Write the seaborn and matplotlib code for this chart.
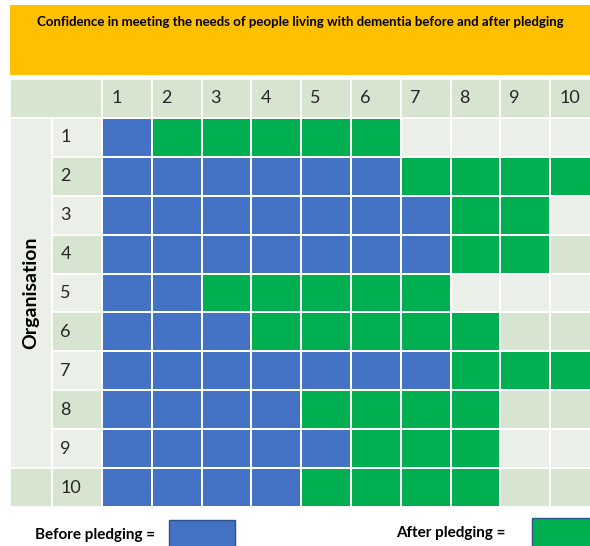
import matplotlib
matplotlib.use("Agg")
import numpy as np
import pandas as pd
import matplotlib.pyplot as plt
import seaborn as sns
from matplotlib.colors import ListedColormap
from matplotlib.patches import Rectangle

# Confidence scores (1-10) per organisation
organisations = [1, 2, 3, 4, 5, 6, 7, 8, 9, 10]
scale_labels = [1, 2, 3, 4, 5, 6, 7, 8, 9, 10]
before_scores = [1, 6, 7, 7, 2, 3, 7, 4, 5, 4]
after_scores = [6, 10, 9, 9, 7, 8, 10, 8, 8, 8]

title = "Confidence in meeting the needs of people living with dementia before and after pledging"

LIGHT = '#EAF0E8'
DARK = '#D7E4CF'
BLUE = '#4472C4'
GREEN = '#00B050'
ORANGE = '#FFC000'
TEXT = '#262626'

plt.rcParams['font.family'] = ['Lato', 'DejaVu Sans']

# cell codes: 0 light background, 1 dark background, 2 before, 3 after
grid = np.zeros((len(organisations), len(scale_labels)), dtype=int)
for i, (b, a) in enumerate(zip(before_scores, after_scores)):
    grid[i, :] = i % 2
    grid[i, b:a] = 3
    grid[i, :b] = 2
df = pd.DataFrame(grid, index=organisations, columns=scale_labels)

W, H = 590, 546
fig = plt.figure(figsize=(W / 100, H / 100), dpi=100)

# title band
tax = fig.add_axes([10 / W, 1 - 75 / H, 580 / W, 70 / H])
tax.set_facecolor(ORANGE)
tax.set_xticks([])
tax.set_yticks([])
for s in tax.spines.values():
    s.set_visible(False)
tax.text(0.5, 1 - 17 / 70, title, ha='center', va='center',
         fontsize=9.5, fontweight='bold', color='black', transform=tax.transAxes)

# the grid
ax = fig.add_axes([10 / W, 1 - 507 / H, 580 / W, (507 - 79) / H])
sns.heatmap(df, ax=ax, cmap=ListedColormap([LIGHT, DARK, BLUE, GREEN]),
            vmin=-0.5, vmax=3.5, cbar=False, linewidths=1.2, linecolor='white',
            xticklabels=False, yticklabels=False)
ax.set_xlim(-1.85, 9.8)
ax.set_ylim(10, -1)
ax.set_xlabel('')
ax.set_ylabel('')

lw = 1.2
# header row
ax.add_patch(Rectangle((-1.85, -1), 1.85, 1, facecolor=DARK, edgecolor='white', lw=lw))
for j, lab in enumerate(scale_labels):
    ax.add_patch(Rectangle((j, -1), 1, 1, facecolor=DARK, edgecolor='white', lw=lw))
    ax.text(j + 0.18, -0.5, str(lab), ha='left', va='center', fontsize=13, color=TEXT)

# organisation label column
ax.add_patch(Rectangle((-1.85, 0), 0.85, 9, facecolor=LIGHT, edgecolor='white', lw=lw))
ax.add_patch(Rectangle((-1.85, 9), 0.85, 1, facecolor=DARK, edgecolor='white', lw=lw))
ax.text(-1.425, 4.5, 'Organisation', rotation=90, ha='center', va='center',
        fontsize=14, fontweight='bold', color='black')
for i, lab in enumerate(organisations):
    ax.add_patch(Rectangle((-1, i), 1, 1, facecolor=[LIGHT, DARK][i % 2],
                           edgecolor='white', lw=lw))
    ax.text(-0.84, i + 0.5, str(lab), ha='left', va='center', fontsize=13, color=TEXT)

# legend
fig.text(95 / W, 1 - 535 / H, 'Before pledging =', ha='center', va='center',
         fontsize=11, fontweight='bold', color='black')
fig.patches.append(Rectangle((169 / W, -0.02), 66 / W, 0.02 + (546 - 520) / H,
                             transform=fig.transFigure, facecolor=BLUE,
                             edgecolor='#2F528F', lw=1))
fig.text(451 / W, 1 - 533 / H, 'After pledging =', ha='center', va='center',
         fontsize=11, fontweight='bold', color='black')
fig.patches.append(Rectangle((532 / W, -0.02), 60 / W, 0.02 + (546 - 518) / H,
                             transform=fig.transFigure, facecolor=GREEN,
                             edgecolor='#2F528F', lw=1))

fig.savefig('out.png', dpi=100)
